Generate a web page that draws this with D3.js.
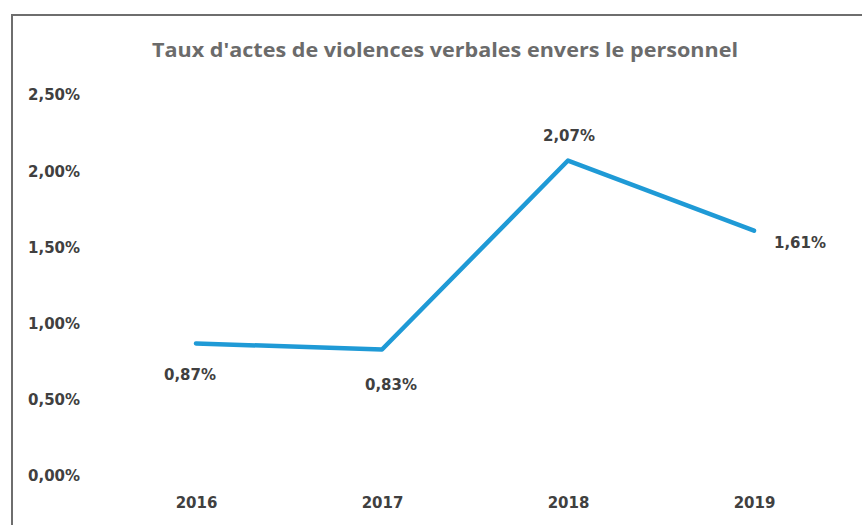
<!DOCTYPE html>
<html>
<head>
<meta charset="utf-8">
<script src="https://cdn.jsdelivr.net/npm/d3@7"></script>
<style>
  html, body { margin: 0; padding: 0; background: #fff; }
  svg { display: block; }
</style>
</head>
<body>
<svg id="chart" width="862" height="525"></svg>
<script>
// Taux d'actes de violences verbales envers le personnel (%)
const years = ["2016", "2017", "2018", "2019"];
const rates = [0.87, 0.83, 2.07, 1.61];
const yTicks = [0, 0.5, 1, 1.5, 2, 2.5];
const chartTitle = "Taux d'actes de violences verbales envers le personnel";

const svg = d3.select("#chart");
const W = 862, H = 525;
const labelFont = "'DejaVu Sans', sans-serif";
const titleFont = "'Open Sans', sans-serif";
const frmt = v => d3.format(".2f")(v).replace(".", ",") + "%";

// frame around the chart area
svg.append("path")
  .attr("d", `M12,${H} L12,15 L${W},15`)
  .attr("fill", "none")
  .attr("stroke", "#6e6e6e")
  .attr("stroke-width", 2);

// title
svg.append("text")
  .attr("x", 445).attr("y", 57)
  .attr("text-anchor", "middle")
  .attr("font-family", titleFont)
  .attr("font-weight", "bold")
  .attr("font-size", 19)
  .attr("fill", "#6b6b6b")
  .attr("textLength", 586)
  .attr("lengthAdjust", "spacingAndGlyphs")
  .text(chartTitle);

const x = d3.scalePoint().domain(years).range([196, 754]);
const y = d3.scaleLinear().domain([0, 2.5]).range([476, 95]);

// y axis labels (no line, no ticks)
const yAxis = d3.axisLeft(y).tickValues(yTicks).tickFormat(frmt).tickSize(0).tickPadding(0);
const gy = svg.append("g").attr("transform", "translate(28,0)").call(yAxis);
gy.select(".domain").remove();
gy.selectAll("text")
  .attr("text-anchor", "start")
  .attr("font-family", labelFont)
  .attr("font-weight", "bold")
  .attr("font-size", 15)
  .attr("fill", "#404040");

// x axis labels
const xAxis = d3.axisBottom(x).tickSize(0).tickPadding(0);
const gx = svg.append("g").attr("transform", "translate(0,497)").call(xAxis);
gx.select(".domain").remove();
gx.selectAll("text")
  .attr("font-family", labelFont)
  .attr("font-weight", "bold")
  .attr("font-size", 15)
  .attr("fill", "#404040");

// data line
const line = d3.line().x((d, i) => x(years[i])).y(d => y(d));
svg.append("path")
  .datum(rates)
  .attr("d", line)
  .attr("fill", "none")
  .attr("stroke", "#1f9ad6")
  .attr("stroke-width", 4.5)
  .attr("stroke-linejoin", "round")
  .attr("stroke-linecap", "round");

// value labels
const labelOffsets = [
  { dx: -6, dy: 37 },
  { dx: 9, dy: 40 },
  { dx: 1, dy: -20 },
  { dx: 46, dy: 17 }
];
svg.append("g").selectAll("text")
  .data(rates)
  .join("text")
  .attr("x", (d, i) => x(years[i]) + labelOffsets[i].dx)
  .attr("y", (d, i) => y(d) + labelOffsets[i].dy)
  .attr("text-anchor", "middle")
  .attr("font-family", labelFont)
  .attr("font-weight", "bold")
  .attr("font-size", 15)
  .attr("fill", "#404040")
  .text(d => frmt(d));
</script>
</body>
</html>
